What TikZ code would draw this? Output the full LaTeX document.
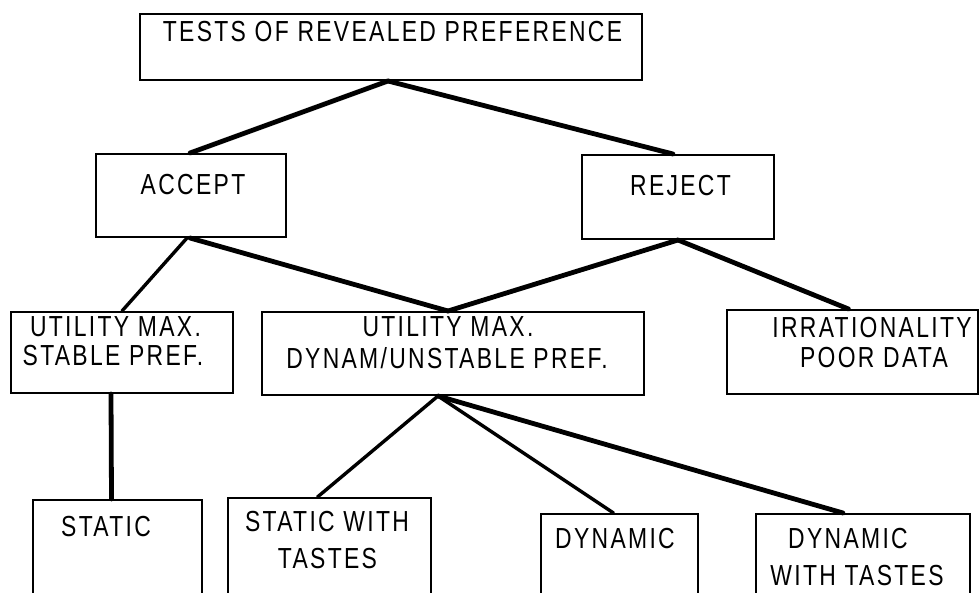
\documentclass[tikz,border=0pt]{standalone}
\usepackage{fontspec}
\setmainfont{Liberation Sans}[FakeStretch=0.79,LetterSpace=8]
\begin{document}
\begin{tikzpicture}[x=1pt,y=-1pt,
  box/.style={draw=black,line width=2pt,rectangle,inner sep=0pt},
  lbl/.style={anchor=base,inner sep=0pt,font=\fontsize{29pt}{32pt}\selectfont},
  thickline/.style={line width=4.8pt,line cap=round},
  medline/.style={line width=3.4pt,line cap=round}]
\useasboundingbox (0,0) rectangle (980,593);
\clip (0,0) rectangle (980,593);
\fill[white] (0,0) rectangle (980,593);
% boxes (center, width, height)
\node[box,minimum width=502pt,minimum height=66pt] (top) at (391,47) {};
\node[box,minimum width=190pt,minimum height=83pt] (accept) at (191,195.5) {};
\node[box,minimum width=192pt,minimum height=84pt] (reject) at (678,197) {};
\node[box,minimum width=222pt,minimum height=81pt] (stable) at (122,352.5) {};
\node[box,minimum width=382pt,minimum height=83pt] (dynam) at (453,353.5) {};
\node[box,minimum width=251pt,minimum height=84pt] (irr) at (852.5,352) {};
\node[box,minimum width=169pt,minimum height=120pt] (static) at (117.5,560) {};
\node[box,minimum width=203pt,minimum height=122pt] (swt) at (329.5,559) {};
\node[box,minimum width=157pt,minimum height=106pt] (dyn) at (619.5,567) {};
\node[box,minimum width=214pt,minimum height=106pt] (dwt) at (863,567) {};
% texts
\node[lbl] (tTop) at (392.5,42) {TESTS OF REVEALED PREFERENCE};
\node[lbl] (tAccept) at (193,195) {ACCEPT};
\node[lbl] (tReject) at (680.5,196) {REJECT};
\node[lbl] (tStableA) at (115.5,337) {UTILITY MAX.};
\node[lbl] (tStableB) at (113,366) {STABLE PREF.};
\node[lbl] (tDynamA) at (448,337) {UTILITY MAX.};
\node[lbl] (tDynamB) at (447,369) {DYNAM/UNSTABLE PREF.};
\node[lbl] (tIrrA) at (872,338) {IRRATIONALITY};
\node[lbl] (tIrrB) at (874,368) {POOR DATA};
\node[lbl] (tStatic) at (106,536) {STATIC};
\node[lbl] (tSwtA) at (327,531) {STATIC WITH};
\node[lbl] (tSwtB) at (327.5,568) {TASTES};
\node[lbl] (tDyn) at (615,548) {DYNAMIC};
\node[lbl] (tDwtA) at (848,548) {DYNAMIC};
\node[lbl] (tDwtB) at (857,585) {WITH TASTES};
% connectors
\draw[thickline] ([xshift=-3pt]top.south) -- ([xshift=-1pt]accept.north);
\draw[thickline] ([xshift=-3pt]top.south) -- ([xshift=-5pt]reject.north);
\draw[medline] ([xshift=-4pt]accept.south) -- (stable.north);
\draw[thickline] ([xshift=-1pt]accept.south) -- ([xshift=-5pt]dynam.north);
\draw[thickline] (reject.south) -- ([xshift=-5pt]dynam.north);
\draw[thickline] (reject.south) -- ([xshift=-4pt]irr.north);
\draw[thickline] ([xshift=-11pt]stable.south) -- ([xshift=-6pt]static.north);
\draw[medline] ([xshift=-15pt]dynam.south) -- ([xshift=-12pt]swt.north);
\draw[medline] ([xshift=-15pt]dynam.south) -- ([xshift=-6pt]dyn.north);
\draw[thickline] ([xshift=-15pt]dynam.south) -- ([xshift=-20pt]dwt.north);
\end{tikzpicture}
\end{document}
